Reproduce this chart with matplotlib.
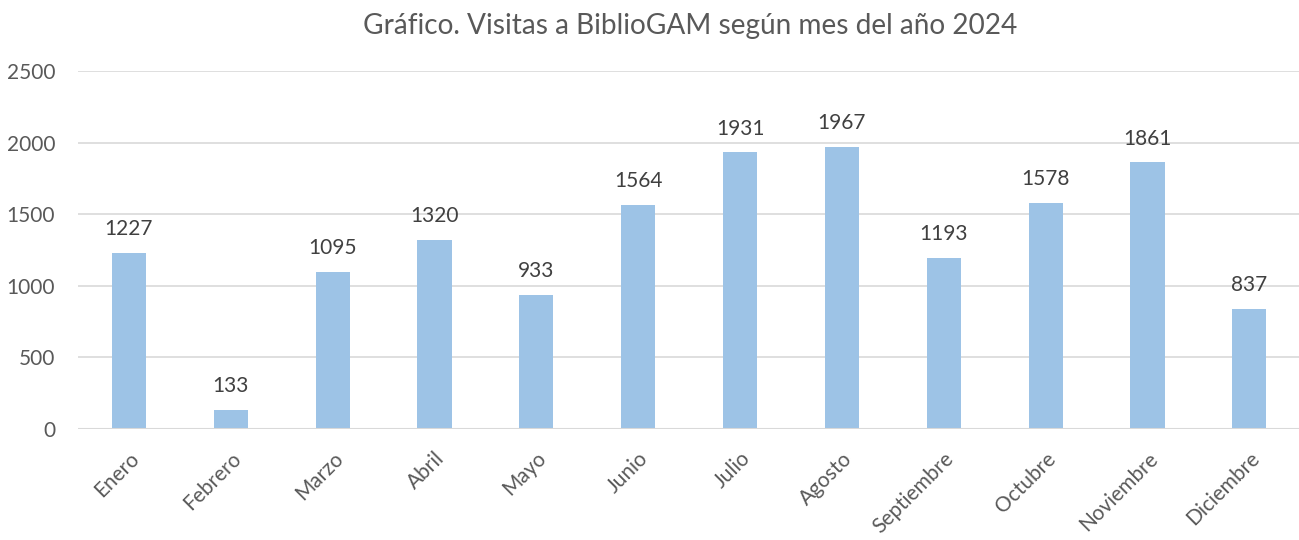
import matplotlib
matplotlib.use("Agg")
import matplotlib.pyplot as plt

months = ["Enero", "Febrero", "Marzo", "Abril", "Mayo", "Junio", "Julio",
          "Agosto", "Septiembre", "Octubre", "Noviembre", "Diciembre"]
visits = [1227, 133, 1095, 1320, 933, 1564, 1931, 1967, 1193, 1578, 1861, 837]
yticks = [0, 500, 1000, 1500, 2000, 2500]
title = "Gráfico. Visitas a BiblioGAM según mes del año 2024"

plt.rcParams['font.family'] = ['Lato', 'DejaVu Sans']

fig = plt.figure(figsize=(12.99, 5.40), dpi=100)
ax = fig.add_axes([0.060, 0.2056, 0.941, 0.663])

x = list(range(len(months)))
bars = ax.bar(x, visits, width=0.335, color="#9DC3E6", zorder=3)
for xi, v in zip(x, visits):
    ax.annotate(str(v), (xi, v), xytext=(0, 10), textcoords="offset points",
                ha="center", va="bottom", fontsize=15, color="#404040")

ax.set_xlim(-0.5, len(months) - 0.5)
ax.set_ylim(0, 2500)
ax.set_yticks(yticks)
ax.set_yticklabels([str(t) for t in yticks])
ax.set_xticks(x)
ax.set_xticklabels(months, rotation=45, ha="right", va="top", rotation_mode="anchor")
ax.tick_params(axis="both", length=0, labelsize=15, labelcolor="#595959")
ax.tick_params(axis="y", pad=16.5)
ax.tick_params(axis="x", pad=14)
ax.grid(axis="y", color="#D9D9D9", linewidth=1.2, zorder=0)
for s in ax.spines.values():
    s.set_visible(False)
ax.axhline(0, color="#D9D9D9", linewidth=1.5, zorder=4)

fig.text(0.531, 0.951, title, ha="center", va="center", fontsize=20.2, color="#595959")

fig.savefig("out.png", dpi=100)
